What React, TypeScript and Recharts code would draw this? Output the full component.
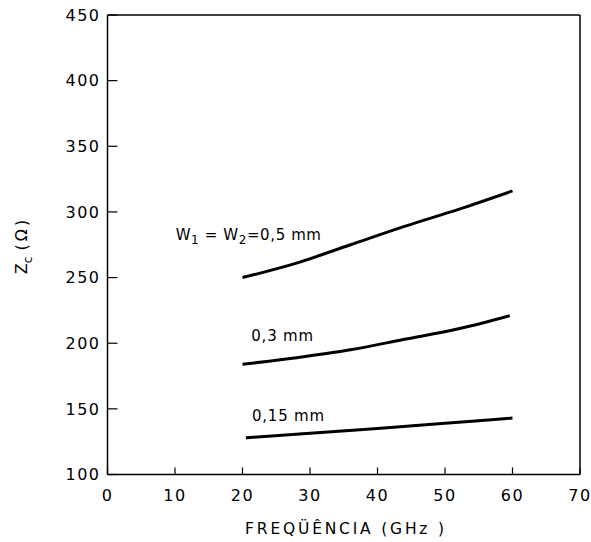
import React from "react";
import { LineChart, Line, XAxis, YAxis, ReferenceLine, ReferenceDot, Label } from "recharts";

// frequency (GHz) / Zc (ohm)
const freq05 = [20, 28, 36, 44, 52, 60];
const zc05 = [250, 261, 275, 289, 302, 316];
const freq03 = [20, 28, 36, 44, 52, 59.6];
const zc03 = [184, 189, 195, 203, 211, 221];
const freq015 = [20.5, 30, 40, 50, 60];
const zc015 = [128, 131.5, 135, 139, 143];

const xTicks = [0, 10, 20, 30, 40, 50, 60, 70];
const yTicks = [100, 150, 200, 250, 300, 350, 400, 450];

const toRows = (xs: number[], ys: number[]) => xs.map((f, i) => ({ f, z: ys[i] }));

const FONT = "DejaVu Sans";

// curve labels, anchored at left-middle in data coords
const curveLabels = [
  { x: 10.1, y: 282.6, main: true },
  { x: 21.3, y: 205.8, text: "0,3 mm" },
  { x: 21.4, y: 144.9, text: "0,15 mm" },
];

function CurveLabel({ viewBox, item }: any) {
  const x = viewBox.x;
  const y = viewBox.y;
  if (item.main) {
    return (
      <text x={x} y={y + 5} fontFamily={FONT} fontSize={15} letterSpacing={0.6} fill="#000">
        <tspan>W</tspan>
        <tspan dy={4} fontSize={12}>1</tspan>
        <tspan dy={-4}> = W</tspan>
        <tspan dy={4} fontSize={12}>2</tspan>
        <tspan dy={-4}>=0,5 mm</tspan>
      </text>
    );
  }
  return (
    <text x={x} y={y + 5} fontFamily={FONT} fontSize={15} letterSpacing={0.8} fill="#000">
      {item.text}
    </text>
  );
}

function YTitle() {
  return (
    <text transform="translate(27,247) rotate(-90)" textAnchor="middle" fontFamily={FONT} fontSize={16} fill="#000">
      <tspan>Z</tspan>
      <tspan dy={5} fontSize={12}>c</tspan>
      <tspan dy={-5} dx={6}>(</tspan>
      <tspan dx={3}>Ω</tspan>
      <tspan dx={3}>)</tspan>
    </text>
  );
}

function XTitle() {
  return (
    <text x={346} y={534} textAnchor="middle" fontFamily={FONT} fontSize={15.5} letterSpacing={2.8} fill="#000">
      FREQÜÊNCIA  (GHz )
    </text>
  );
}

export default function App() {
  const tickStyle = { fontFamily: FONT, fontSize: 16, fill: "#000", letterSpacing: 1.5 };
  return (
    <div style={{ position: "absolute", left: 0, top: 0, background: "#fff" }}>
      <LineChart width={591} height={542} margin={{ top: 15, right: 11, bottom: 0, left: 0 }}>
        <XAxis
          dataKey="f"
          type="number"
          domain={[0, 70]}
          ticks={xTicks}
          allowDataOverflow
          height={67.5}
          tickSize={-7}
          tickMargin={22}
          tick={tickStyle}
          axisLine={{ stroke: "#000", strokeWidth: 1.5 }}
          tickLine={{ stroke: "#000", strokeWidth: 1.2 }}
        >
          <Label content={<XTitle />} />
        </XAxis>
        <YAxis
          dataKey="z"
          type="number"
          domain={[100, 450]}
          ticks={yTicks}
          allowDataOverflow
          width={107.5}
          tickSize={-10}
          tickMargin={17}
          tick={tickStyle}
          axisLine={{ stroke: "#000", strokeWidth: 1.5 }}
          tickLine={{ stroke: "#000", strokeWidth: 1.2 }}
        >
          <Label content={<YTitle />} />
        </YAxis>
        <ReferenceLine y={450} stroke="#000" strokeWidth={1.5} />
        <ReferenceLine x={70} stroke="#000" strokeWidth={1.5} />
        <Line data={toRows(freq05, zc05)} dataKey="z" type="monotone" stroke="#000" strokeWidth={3} dot={false} isAnimationActive={false} />
        <Line data={toRows(freq03, zc03)} dataKey="z" type="monotone" stroke="#000" strokeWidth={3} dot={false} isAnimationActive={false} />
        <Line data={toRows(freq015, zc015)} dataKey="z" type="monotone" stroke="#000" strokeWidth={3} dot={false} isAnimationActive={false} />
        {curveLabels.map((c, i) => (
          <ReferenceDot key={i} x={c.x} y={c.y} r={0} stroke="none" fill="none" label={{ content: (p: any) => <CurveLabel {...p} item={c} /> }} />
        ))}
      </LineChart>
    </div>
  );
}
